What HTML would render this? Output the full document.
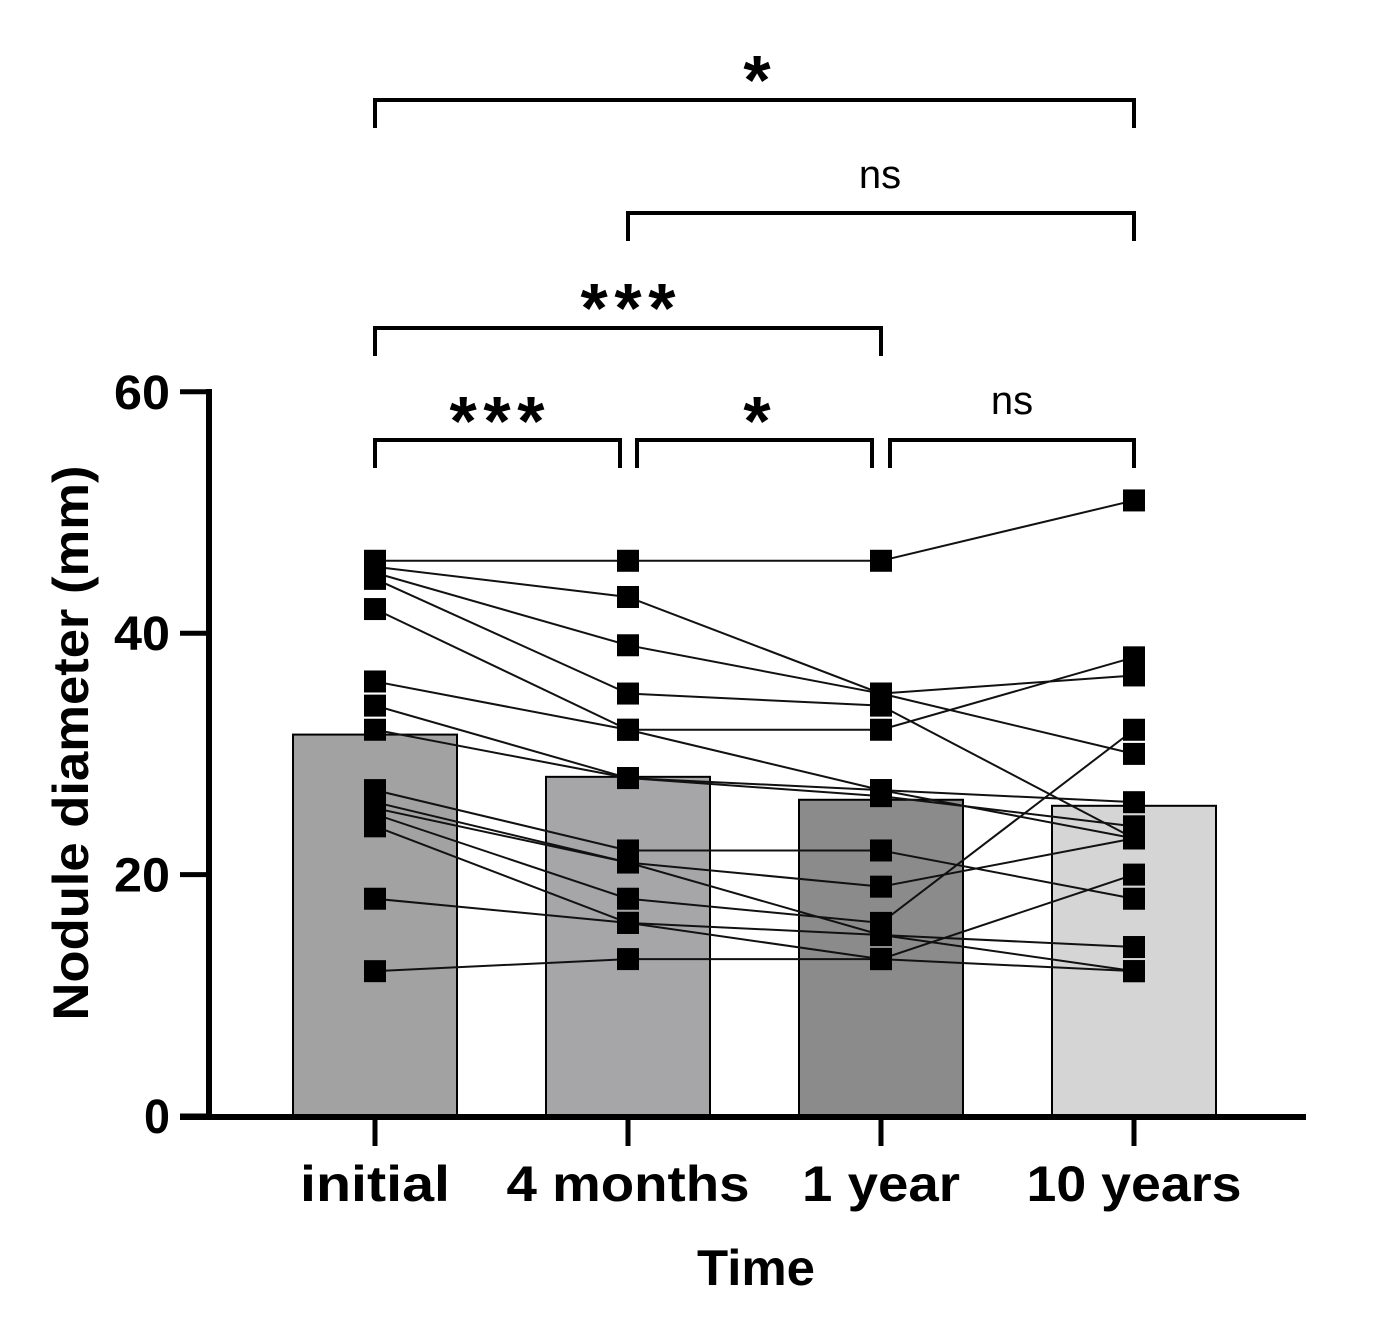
<!DOCTYPE html>
<html><head><meta charset="utf-8"><style>
html,body{margin:0;padding:0;background:#fff}
svg{display:block;font-family:"Liberation Sans",Arial,sans-serif}
</style></head><body>
<svg id="chart" width="1374" height="1322" viewBox="0 0 1374 1322">
<g id="bars"></g>
<g id="lines"></g>
<g id="points"></g>
<g id="axes"></g>
<g id="brackets"></g>
</svg>
<script>
const categories = ["initial","4 months","1 year","10 years"];
const barMeans = [31.6, 28.1, 26.2, 25.7];
const barColors = ["#a2a2a2","#a6a6a9","#8b8b8b","#d5d5d5"];
const yTicks = [0,20,40,60];
const subjInitial = [46,45.5,45,44.5,42,36,34,32,27,26,25.5,25,24,18,12];
const subj4Months = [46,43,39,35,32,32,28,28,22,21,21,18,16,16,13];
const subj1Year   = [46,35,35,34,32,27,27,26.5,22,19,15,16,15,13,13];
const subj10Years = [51,36.5,30,23,38,23,26,24,18,23,14,32,12,12,20];
const series = [subjInitial, subj4Months, subj1Year, subj10Years];

const NS="http://www.w3.org/2000/svg";
const y0=1116, pxPerUnit=12.07;
const yScale=v=>y0-v*pxPerUnit;
const xCenters=[375,628,881,1134];
const xScale=i=>xCenters[i];
function mk(tag,attrs,parent,text){const e=document.createElementNS(NS,tag);for(const k in attrs)e.setAttribute(k,attrs[k]);if(text!==undefined)e.textContent=text;parent.appendChild(e);return e;}

const gb=document.getElementById('bars');
barMeans.forEach((m,i)=>{
  const r=mk('rect',{x:xScale(i)-82,y:yScale(m),width:164,height:y0-yScale(m),fill:barColors[i],stroke:'#000','stroke-width':2},gb);
  
  
});
const gl=document.getElementById('lines');
for(let s=0;s<subjInitial.length;s++){
  const pts=series.map((arr,i)=>xScale(i)+','+yScale(arr[s])).join(' ');
  const p=mk('polyline',{points:pts,fill:'none',stroke:'#111','stroke-width':2},gl);
  
  
}
const gp=document.getElementById('points');
series.forEach((arr,i)=>arr.forEach(v=>{
  const r=mk('rect',{x:xScale(i)-11,y:yScale(v)-11,width:22,height:22,fill:'#000'},gp);
  
  
}));
const ga=document.getElementById('axes');
let e=mk('line',{x1:209,y1:389,x2:209,y2:1119,stroke:'#000','stroke-width':6},ga);


e=mk('line',{x1:180,y1:1117,x2:1306,y2:1117,stroke:'#000','stroke-width':6},ga);


yTicks.forEach(t=>{
  mk('line',{x1:180,y1:yScale(t),x2:209,y2:yScale(t),stroke:'#000','stroke-width':5},ga);
  const tx=mk('text',{x:170,y:yScale(t)+17,'text-anchor':'end','font-size':48,'font-weight':'bold',textLength:t===0?26:56,lengthAdjust:'spacingAndGlyphs'},ga,String(t));
  
  
});
const labW=[150,243,158,215];
categories.forEach((c,i)=>{
  mk('line',{x1:xScale(i),y1:1117,x2:xScale(i),y2:1146,stroke:'#000','stroke-width':5},ga);
  const tx=mk('text',{x:xScale(i),y:1201,'text-anchor':'middle','font-size':50,'font-weight':'bold',textLength:labW[i],lengthAdjust:'spacingAndGlyphs'},ga,c);
  
  
});
e=mk('text',{x:756,y:1285,'text-anchor':'middle','font-size':50,'font-weight':'bold',textLength:118,lengthAdjust:'spacingAndGlyphs'},ga,'Time');


e=mk('text',{x:0,y:0,'text-anchor':'middle','font-size':50,'font-weight':'bold',textLength:555,lengthAdjust:'spacingAndGlyphs',transform:'translate(88,743) rotate(-90)'},ga,'Nodule diameter (mm)');



const gk=document.getElementById('brackets');
const brackets=[[375,1134,100,128,'*',757,104,70],[628,1134,213,241,'ns',880,188,40],[375,881,328,356,'***',628,332,70],[375,620,440,468,'***',497,445,70],[637,872,440,468,'*',757,445,70],[890,1134,440,468,'ns',1012,414,40]];
brackets.forEach(b=>{
  const p=mk('path',{d:`M${b[0]},${b[3]}V${b[2]}H${b[1]}V${b[3]}`,fill:'none',stroke:'#000','stroke-width':4},gk);
  
  
  const attrs={x:b[5],y:b[6],'text-anchor':'middle','font-size':b[7],'font-weight':b[4]==='ns'?'normal':'bold'};
  if(b[4]==='***'){attrs.textLength=95;attrs.lengthAdjust='spacing';}
  const t=mk('text',attrs,gk,b[4]);
  
  
});
</script>
</body></html>
